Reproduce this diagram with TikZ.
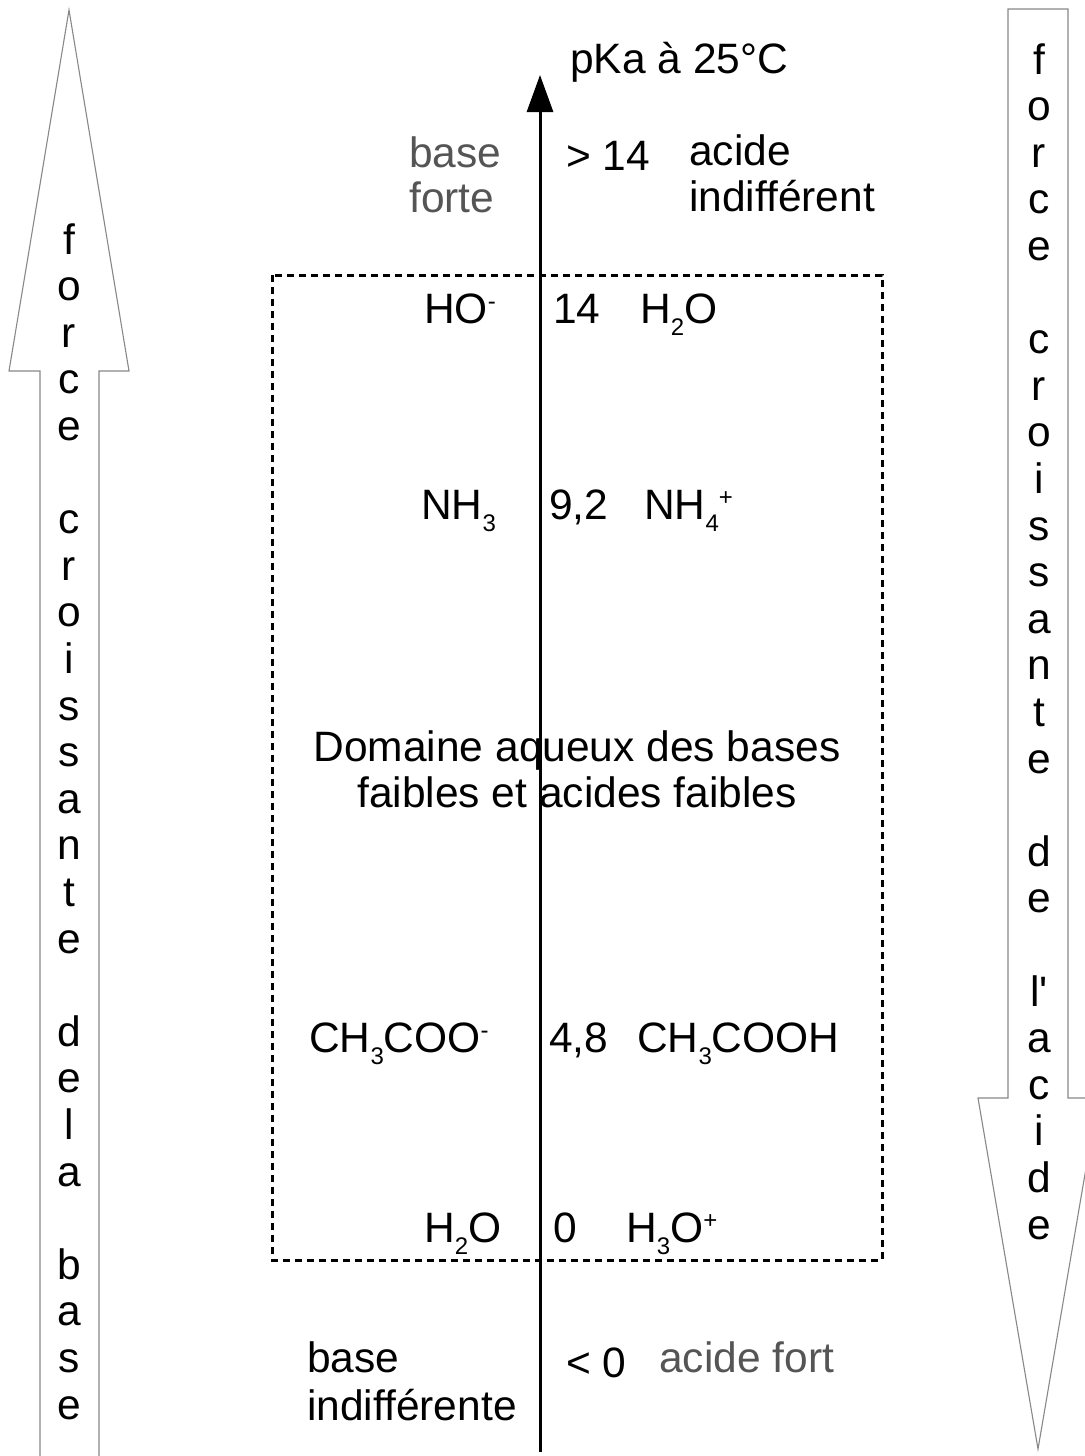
\documentclass[tikz,border=0pt]{standalone}
\usepackage{fontspec}
\setmainfont{Liberation Sans}[Ligatures=TeXOff]
\usetikzlibrary{arrows.meta}
\definecolor{txtgray}{HTML}{555555}
\definecolor{outlinegray}{HTML}{888888}
\newcommand\chsub[1]{\raisebox{-12pt}{\fontsize{24}{24}\selectfont #1}}
\newcommand\chsup[1]{\raisebox{14pt}{\fontsize{24}{24}\selectfont #1}}
\begin{document}
\begin{tikzpicture}[x=1pt,y=-1pt,
  txt/.style={font=\fontsize{42.5}{46.5}\selectfont, inner sep=0pt, anchor=base west},
  graytxt/.style={txt, text=txtgray},
  ctxt/.style={txt, anchor=base},
  bigarrow/.style={draw=outlinegray, line width=1.1pt, fill=white},
  domainbox/.style={draw=black, line width=3pt, dash pattern=on 7pt off 5pt},
  pkaaxis/.style={draw=black, line width=3pt, -{Triangle[length=37pt,width=26pt]}}]
\useasboundingbox (0,0) rectangle (1084,1456);

% side arrows
\path[bigarrow] (40,1470) -- (40,371) -- (9,371) -- (69,10) -- (129,371) -- (99,371) -- (99,1470);
\path[bigarrow] (1008,1098) -- (1008,9) -- (1068,9) -- (1068,1098) -- (1098,1098) -- (1038,1449) -- (978,1098) -- cycle;

\foreach \ch/\k in {f/0,o/1,r/2,c/3,e/4,c/6,r/7,o/8,i/9,s/10,s/11,a/12,n/13,t/14,e/15,d/17,e/18,l/19,a/20,b/22,a/23,s/24,e/25}
  \node[ctxt] (L\k) at (69,{254+46.6*\k}) {\ch};
\foreach \ch/\k in {f/0,o/1,r/2,c/3,e/4,c/6,r/7,o/8,i/9,s/10,s/11,a/12,n/13,t/14,e/15,d/17,e/18,l'/20,a/21,c/22,i/23,d/24,e/25}
  \node[ctxt] (R\k) at (1039,{74+46.6*\k}) {\ch};

% domain box
\draw[domainbox] (272,275) rectangle (882,1260);

% texts
\node[txt] (title) at (570,73) {pKa à 25°C};
\node[graytxt] (bf1) at (409,167) {base};
\node[graytxt] (bf2) at (409,212) {forte};
\node[txt] (gt14) at (566,170) {> 14};
\node[txt] (ai1) at (689,165) {acide};
\node[txt] (ai2) at (689,211) {indifférent};

\node[txt] (HO) at (424,323) {HO\chsup{-}};
\node[txt] (p14) at (553,323) {14};
\node[txt] (H2Oa) at (640,323) {H\chsub{2}O};

\node[txt] (NH3) at (421,519) {NH\chsub{3}};
\node[txt] (p92) at (549,519) {9,2};
\node[txt] (NH4) at (644,519) {NH\chsub{4}\chsup{+}};

\node[ctxt] (dom1) at (577,761) {Domaine aqueux des bases};
\node[ctxt] (dom2) at (577,807) {faibles et acides faibles};

\node[txt] (CH3COOm) at (309,1052) {CH\chsub{3}COO\chsup{-}};
\node[txt] (p48) at (549,1052) {4,8};
\node[txt] (CH3COOH) at (637,1052) {CH\chsub{3}COOH};

\node[txt] (H2Ob) at (424,1242) {H\chsub{2}O};
\node[txt] (p0) at (553,1242) {0};
\node[txt] (H3O) at (626,1242) {H\chsub{3}O\chsup{+}};

\node[txt] (bi1) at (307,1372) {base};
\node[txt] (bi2) at (307,1420) {indifférente};
\node[txt] (lt0) at (566,1377) {< 0};
\node[graytxt] (af) at (659,1372) {acide fort};

% pKa axis
\coordinate (axbot) at (540,1452);
\coordinate (axtop) at (540,75);
\draw[pkaaxis] (axbot) -- (axtop);
\end{tikzpicture}
\end{document}
